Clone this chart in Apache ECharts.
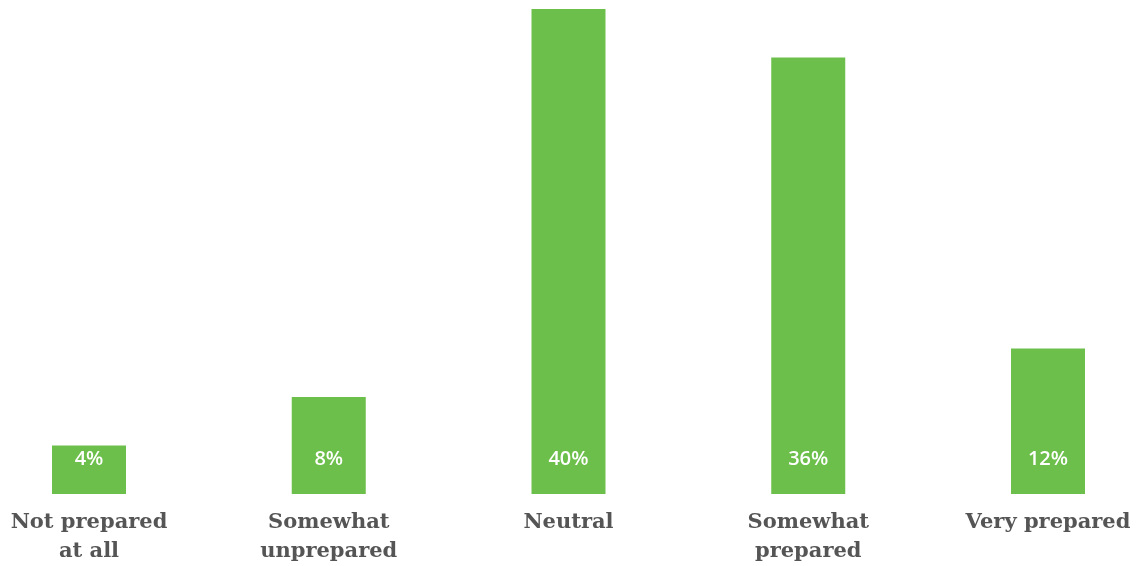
<!DOCTYPE html>
<html>
<head>
<meta charset="utf-8">
<script src="https://cdn.jsdelivr.net/npm/echarts@6/dist/echarts.min.js"></script>
<style>
  html, body { margin: 0; padding: 0; background: #ffffff; }
  #chart { width: 1136px; height: 566px; }
</style>
</head>
<body>
<div id="chart"></div>
<script>
// Preparedness survey responses (share of respondents, %)
const categories = ['Not prepared\nat all', 'Somewhat\nunprepared', 'Neutral', 'Somewhat\nprepared', 'Very prepared'];
const shares = [4, 8, 40, 36, 12];

const chart = echarts.init(document.getElementById('chart'), null, { renderer: 'canvas' });

chart.setOption({
  animation: false,
  grid: { left: 89, right: 88, top: 9, bottom: 71, containLabel: false },
  xAxis: {
    type: 'category',
    data: categories,
    boundaryGap: false,
    axisLine: { show: false },
    axisTick: { show: false },
    axisLabel: {
      interval: 0,
      margin: 14,
      color: '#555555',
      fontFamily: '"DejaVu Serif", "Liberation Serif", serif',
      fontWeight: 'bold',
      fontSize: 21,
      lineHeight: 29,
      align: 'center'
    }
  },
  yAxis: {
    type: 'value',
    min: 0,
    max: 40,
    show: false,
    splitLine: { show: false }
  },
  series: [{
    type: 'bar',
    data: shares,
    barWidth: 74,
    itemStyle: { color: '#6cbf4a' },
    label: {
      show: true,
      position: 'insideBottom',
      distance: 25,
      formatter: '{c}%',
      color: '#ffffff',
      fontFamily: '"Open Sans", sans-serif',
      fontWeight: 600,
      fontSize: 20
    }
  }]
});
</script>
</body>
</html>
